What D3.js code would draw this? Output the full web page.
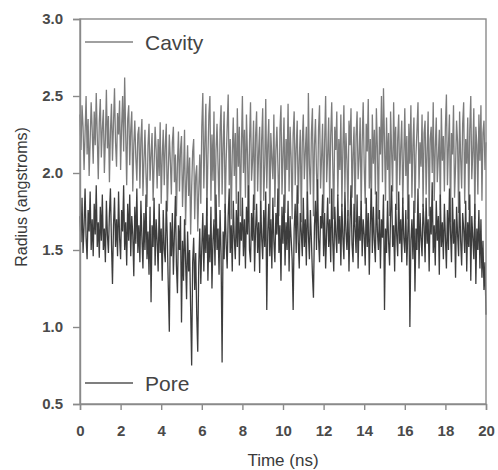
<!DOCTYPE html>
<html>
<head>
<meta charset="utf-8">
<script src="https://cdn.jsdelivr.net/npm/d3@7/dist/d3.min.js"></script>
<style>
  body { margin: 0; background: #fff; }
  svg text { font-family: "Liberation Sans", Arial, sans-serif; }
</style>
</head>
<body>
<svg id="chart" width="498" height="470"></svg>
<script>
// time step of the trajectory (ns)
var dt = 0.05;

// cavity radius (angstroms), one row per ns
var cavity = [
  2.38, 2.15, 2.44, 2.30, 2.02, 2.26, 2.50, 2.12, 2.35, 1.98, 2.21, 2.46, 2.28, 2.06, 2.40, 2.18, 2.52, 2.24, 1.96, 2.33,
  2.48, 2.10, 2.29, 2.41, 2.00, 2.22, 2.54, 2.16, 2.37, 1.94, 2.27, 2.45, 2.08, 2.32, 2.55, 2.20, 2.04, 2.39, 2.25, 2.47,
  2.02, 2.30, 2.50, 2.14, 2.62, 2.26, 1.92, 2.35, 2.44, 2.05, 2.28, 2.40, 1.88, 2.18, 2.34, 2.10, 1.95, 2.25, 2.30, 1.90,
  2.22, 2.35, 1.85, 2.08, 2.28, 2.00, 1.78, 2.18, 2.32, 1.95, 2.12, 2.26, 1.82, 2.05, 2.30, 2.15, 1.90, 2.22, 1.98, 2.33,
  1.80, 2.10, 2.28, 1.92, 2.18, 2.32, 1.75, 2.02, 2.25, 2.08, 1.86, 2.20, 2.30, 1.94, 2.12, 1.72, 2.06, 2.27, 1.88, 2.15,
  2.24, 1.78, 2.00, 2.28, 1.66, 1.95, 2.18, 1.85, 2.10, 1.60, 1.90, 2.14, 2.22, 1.70, 1.98, 2.05, 1.62, 1.88, 2.12, 1.80,
  2.30, 2.52, 1.90, 2.20, 2.45, 1.72, 2.10, 2.38, 2.50, 1.82, 2.25, 1.95, 2.40, 1.68, 2.15, 2.32, 2.05, 1.78, 2.28, 2.44,
  1.86, 2.18, 2.40, 1.74, 2.08, 2.30, 2.51, 1.92, 2.22, 1.70, 2.12, 2.36, 1.98, 2.26, 1.80, 2.42, 2.04, 2.30, 1.72, 2.16,
  2.50, 2.00, 2.28, 1.84, 2.38, 2.12, 1.68, 2.20, 2.46, 1.95, 2.08, 2.34, 1.76, 2.24, 2.40, 1.88, 2.14, 2.30, 1.70, 2.22,
  2.42, 1.82, 2.05, 2.48, 1.90, 2.18, 2.35, 1.66, 2.26, 2.10, 1.96, 2.38, 1.78, 2.15, 2.30, 2.04, 1.72, 2.28, 2.44, 1.86,
  2.12, 2.36, 1.74, 2.22, 2.02, 2.45, 1.88, 2.30, 2.10, 1.70, 2.25, 2.40, 1.92, 2.16, 2.34, 1.80, 2.08, 2.28, 1.68, 2.20,
  2.38, 1.96, 2.14, 2.30, 1.76, 2.52, 2.05, 1.86, 2.26, 2.42, 1.72, 2.18, 2.35, 2.00, 1.82, 2.28, 2.44, 1.90, 2.10, 2.32,
  1.74, 2.20, 2.50, 1.94, 2.12, 2.36, 1.80, 2.24, 2.46, 2.06, 1.70, 2.30, 2.15, 2.40, 1.85, 2.22, 2.02, 2.38, 1.78, 2.16,
  2.44, 1.88, 2.26, 2.08, 1.72, 2.34, 2.18, 2.42, 1.84, 2.12, 2.30, 1.68, 2.24, 2.40, 1.96, 2.10, 2.36, 1.76, 2.20, 2.46,
  2.04, 1.80, 2.32, 2.14, 2.48, 1.90, 2.22, 1.74, 2.38, 2.06, 2.28, 1.86, 2.42, 2.16, 1.70, 2.30, 2.12, 2.50, 1.94, 2.55,
  2.20, 1.82, 2.36, 2.02, 2.26, 1.72, 2.40, 2.14, 1.88, 2.46, 2.08, 2.30, 1.76, 2.22, 2.38, 1.92, 2.16, 2.34, 1.80, 2.10,
  2.42, 1.98, 2.24, 1.70, 2.32, 2.06, 2.44, 1.84, 2.18, 2.36, 1.74, 2.12, 2.28, 2.46, 1.90, 2.20, 2.04, 2.38, 1.78, 2.26,
  2.34, 1.86, 2.14, 2.40, 1.72, 2.22, 2.30, 2.00, 2.46, 1.82, 2.16, 2.36, 1.94, 2.10, 2.28, 1.76, 2.42, 2.08, 2.24, 1.88,
  2.30, 2.51, 1.92, 2.18, 2.38, 1.68, 2.26, 2.12, 2.44, 1.84, 2.04, 2.34, 2.20, 1.74, 2.40, 2.10, 1.90, 2.32, 2.46, 1.80,
  2.22, 2.06, 2.36, 1.76, 2.28, 2.50, 1.96, 2.14, 2.42, 1.70, 2.30, 2.18, 1.86, 2.38, 2.08, 2.44, 1.82, 2.26, 2.34, 2.02,
  2.20
];

// pore radius (angstroms)
var pore = [
  1.72, 1.55, 1.84, 1.48, 1.66, 1.90, 1.58, 1.44, 1.76, 1.62, 1.88, 1.50, 1.70, 1.46, 1.80, 1.60, 1.92, 1.52, 1.68, 1.45,
  1.78, 1.56, 1.86, 1.50, 1.64, 1.42, 1.82, 1.60, 1.48, 1.74, 1.90, 1.54, 1.28, 1.66, 1.84, 1.52, 1.70, 1.46, 1.88, 1.58,
  1.44, 1.76, 1.62, 1.92, 1.50, 1.68, 1.40, 1.80, 1.56, 1.86, 1.46, 1.72, 1.60, 1.33, 1.78, 1.54, 1.90, 1.48, 1.66, 1.42,
  1.82, 1.58, 1.38, 1.74, 1.50, 1.86, 1.44, 1.62, 1.34, 1.78, 1.16, 1.66, 1.52, 1.84, 1.40, 1.70, 1.56, 1.36, 1.80, 1.48,
  1.64, 1.30, 1.76, 1.50, 1.42, 1.82, 1.58, 1.26, 0.97, 1.68, 1.46, 1.74, 1.34, 1.60, 1.85, 1.40, 1.22, 1.66, 1.50, 1.72,
  1.03, 1.56, 1.30, 1.70, 1.44, 1.18, 1.62, 1.36, 1.50, 1.12, 0.75, 1.42, 1.58, 1.24, 1.48, 1.08, 0.84, 1.40, 1.64, 1.28,
  1.52, 1.74, 1.36, 1.66, 1.48, 1.84, 1.30, 1.60, 1.42, 1.78, 1.25, 1.56, 1.70, 1.40, 1.86, 1.50, 1.64, 1.34, 1.76, 1.46,
  0.77, 1.62, 1.44, 1.80, 1.54, 1.38, 1.72, 1.90, 1.48, 1.66, 1.36, 1.82, 1.58, 1.44, 1.76, 1.52, 1.88, 1.40, 1.68, 1.56,
  1.84, 1.46, 1.70, 1.38, 1.78, 1.60, 1.92, 1.50, 1.42, 1.74, 1.56, 1.86, 1.36, 1.64, 1.80, 1.48, 1.68, 1.35, 1.82, 1.58,
  1.44, 1.76, 1.52, 1.88, 1.11, 1.62, 1.80, 1.46, 1.70, 1.38, 1.84, 1.56, 1.42, 1.74, 1.60, 1.90, 1.48, 1.66, 1.30, 1.78,
  1.54, 1.86, 1.40, 1.68, 1.50, 1.82, 1.36, 1.72, 1.58, 1.44, 1.11, 1.64, 1.80, 1.48, 1.92, 1.56, 1.38, 1.74, 1.62, 1.46,
  1.84, 1.52, 1.70, 1.40, 1.88, 1.60, 1.44, 1.76, 1.56, 1.34, 1.19, 1.66, 1.82, 1.50, 1.96, 1.58, 1.42, 1.72, 1.64, 1.86,
  1.46, 1.74, 1.38, 1.62, 1.84, 1.52, 1.70, 1.42, 1.90, 1.56, 1.36, 1.78, 1.60, 1.48, 1.86, 1.54, 1.72, 1.40, 1.80, 1.58,
  1.44, 1.88, 1.62, 1.50, 1.76, 1.36, 1.68, 1.92, 1.54, 1.42, 1.80, 1.64, 1.48, 1.86, 1.38, 1.72, 1.56, 1.82, 1.46, 1.70,
  1.60, 1.40, 1.84, 1.52, 1.74, 1.34, 1.66, 1.90, 1.48, 1.78, 1.56, 1.42, 1.88, 1.62, 1.50, 1.76, 1.38, 1.70, 1.58, 1.86,
  1.11, 1.64, 1.48, 1.82, 1.56, 1.40, 1.74, 1.92, 1.52, 1.66, 1.36, 1.80, 1.60, 1.46, 1.88, 1.54, 1.70, 1.42, 1.84, 1.58,
  1.48, 1.76, 1.40, 1.62, 1.86, 1.00, 1.56, 1.70, 1.44, 1.82, 1.23, 1.64, 1.50, 1.90, 1.38, 1.74, 1.58, 1.46, 1.80, 1.66,
  1.42, 1.84, 1.54, 1.70, 1.36, 1.78, 1.60, 1.94, 1.48, 1.66, 1.40, 1.82, 1.56, 1.72, 1.34, 1.86, 1.52, 1.68, 1.44, 1.80,
  1.58, 1.38, 1.76, 1.50, 1.90, 1.62, 1.42, 1.84, 1.54, 1.70, 1.32, 1.78, 1.60, 1.46, 1.88, 1.56, 1.40, 1.74, 1.64, 1.48,
  1.82, 1.36, 1.68, 1.52, 1.86, 1.30, 1.72, 1.58, 1.44, 1.80, 1.28, 1.64, 1.50, 1.76, 1.38, 1.70, 1.32, 1.56, 1.24, 1.42,
  1.08
];

var x_ticks = [0, 2, 4, 6, 8, 10, 12, 14, 16, 18, 20];
var y_ticks = [0.5, 1.0, 1.5, 2.0, 2.5, 3.0];

var margin = {left: 80, top: 19, right: 12, bottom: 66};
var W = 498, H = 470;

var svg = d3.select("#chart");

// soften the traces a little, like the scanned figure
svg.append("defs").append("filter")
    .attr("id", "soft")
    .append("feGaussianBlur")
    .attr("stdDeviation", 0.4);

var x = d3.scaleLinear().domain([0, 20]).range([margin.left, W - margin.right]);
var y = d3.scaleLinear().domain([0.5, 3.0]).range([H - margin.bottom, margin.top]);

var line = d3.line()
    .x((d, i) => x(i * dt))
    .y(d => y(d));

var traces = svg.append("g").attr("filter", "url(#soft)");

traces.append("path").datum(cavity)
    .attr("d", line)
    .attr("fill", "none")
    .attr("stroke", "#7c7c7c")
    .attr("stroke-width", 1.3);

traces.append("path").datum(pore)
    .attr("d", line)
    .attr("fill", "none")
    .attr("stroke", "#3e3e3e")
    .attr("stroke-width", 1.3);

// frame
svg.append("rect")
    .attr("x", x(0)).attr("y", y(3.0))
    .attr("width", x(20) - x(0)).attr("height", y(0.5) - y(3.0))
    .attr("fill", "none")
    .attr("stroke", "#8a8a8a")
    .attr("stroke-width", 1.4);

// axes
var xAxis = d3.axisBottom(x).tickValues(x_ticks).tickSize(6).tickPadding(15)
    .tickFormat(d3.format("d"));
var yAxis = d3.axisLeft(y).tickValues(y_ticks).tickSize(7).tickPadding(10)
    .tickFormat(d3.format(".1f"));

var gx = svg.append("g").attr("transform", "translate(0," + y(0.5) + ")").call(xAxis);
var gy = svg.append("g").attr("transform", "translate(" + x(0) + ",0)").call(yAxis);

[gx, gy].forEach(g => {
  g.select(".domain").attr("stroke", "#8a8a8a").attr("stroke-width", 1.4);
  g.selectAll(".tick line").attr("stroke", "#8a8a8a").attr("stroke-width", 1.4);
  g.selectAll(".tick text")
      .attr("fill", "#4a4a4a")
      .style("font-size", "15px")
      .style("font-weight", "bold");
});

// axis titles
svg.append("text")
    .attr("x", 283)
    .attr("y", 466)
    .attr("text-anchor", "middle")
    .attr("fill", "#3a3a3a")
    .style("font-size", "17px")
    .text("Time (ns)");

svg.append("text")
    .attr("transform", "translate(27,197) rotate(-90)")
    .attr("text-anchor", "middle")
    .attr("fill", "#3a3a3a")
    .style("font-size", "16px")
    .text("Radius (angstroms)");

// legends
var legend = [
  {name: "Cavity", color: "#808080", ly: 42},
  {name: "Pore", color: "#555555", ly: 383}
];
legend.forEach(l => {
  svg.append("line")
      .attr("x1", 85).attr("x2", 133)
      .attr("y1", l.ly).attr("y2", l.ly)
      .attr("stroke", l.color).attr("stroke-width", 1.6);
  svg.append("text")
      .attr("x", 145).attr("y", l.ly + 8)
      .attr("fill", "#444")
      .style("font-size", "21px")
      .text(l.name);
});
</script>
</body>
</html>
